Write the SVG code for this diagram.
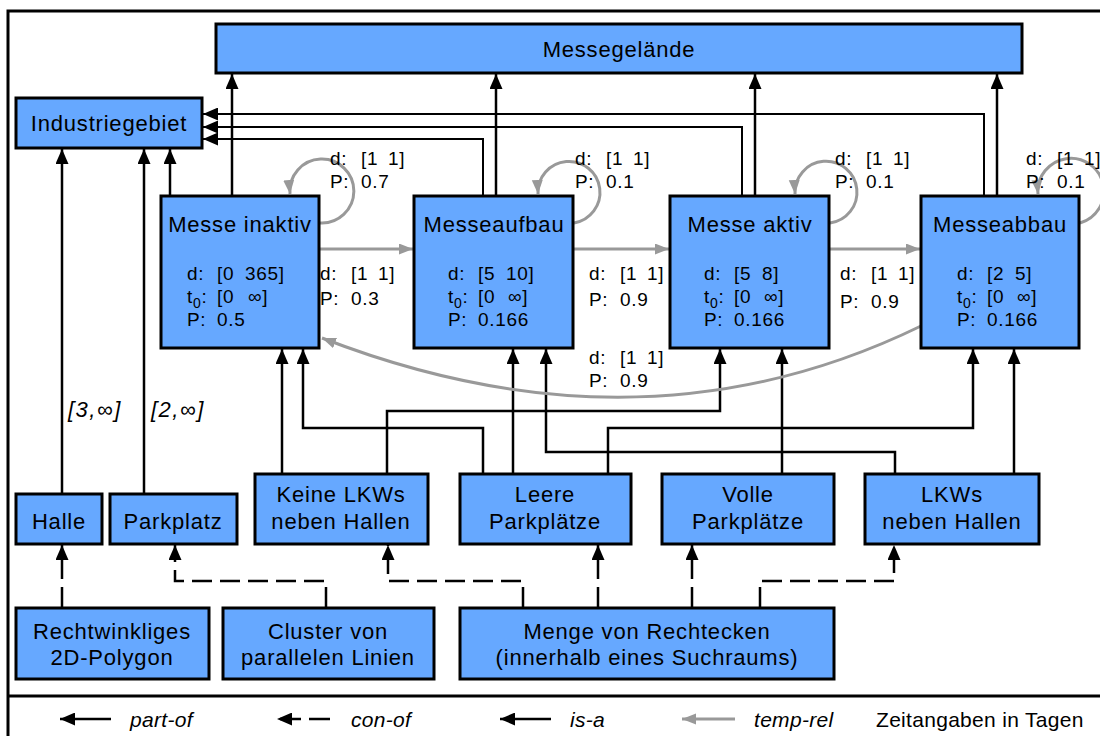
<svg xmlns="http://www.w3.org/2000/svg" width="1100" height="736" viewBox="0 0 1100 736">
<style>
.box{fill:#66a8ff;stroke:#000;stroke-width:3}
.t{font-family:"Liberation Sans",Arial,sans-serif;font-size:22px;text-anchor:middle;letter-spacing:0.8px;fill:#000}
.c{font-family:"Liberation Sans",Arial,sans-serif;font-size:19px;letter-spacing:0.7px;fill:#000}
.lg{font-family:"Liberation Sans",Arial,sans-serif;font-size:21px;letter-spacing:0.3px;fill:#000}
.it{font-style:italic}
.pl{fill:none;stroke:#000;stroke-width:2.5}
.th{stroke-width:2}
.ds{stroke-dasharray:20 8}
.tr{fill:none;stroke:#999;stroke-width:3}
</style>
<defs>
<marker id="ah" markerUnits="userSpaceOnUse" markerWidth="16" markerHeight="13" refX="15" refY="6.5" orient="auto"><path d="M0,0 L15,6.5 L0,13 z" fill="#000"/></marker>
<marker id="ag" markerUnits="userSpaceOnUse" markerWidth="15" markerHeight="12" refX="14" refY="5.5" orient="auto"><path d="M0,0 L14,5.5 L0,11 z" fill="#999"/></marker>
</defs>
<rect x="0" y="0" width="1100" height="736" fill="#fff"/>
<rect x="8" y="11" width="1100" height="740" fill="none" stroke="#000" stroke-width="3"/>
<line x1="8" y1="696" x2="1100" y2="696" stroke="#000" stroke-width="3"/>

<g id="connectors">
<path class="pl" marker-end="url(#ah)" d="M232,195 V74"/>
<path class="pl" marker-end="url(#ah)" d="M496,195 V74"/>
<path class="pl" marker-end="url(#ah)" d="M755,195 V74"/>
<path class="pl" marker-end="url(#ah)" d="M997,195 V74"/>
<path class="pl" marker-end="url(#ah)" d="M170,195 V149"/>
<path class="pl th" marker-end="url(#ah)" d="M483,195 V139 H203"/>
<path class="pl th" marker-end="url(#ah)" d="M742,195 V127 H203"/>
<path class="pl th" marker-end="url(#ah)" d="M984,195 V114 H203"/>
<path class="pl" marker-end="url(#ah)" d="M62,493 V149"/>
<path class="pl" marker-end="url(#ah)" d="M144,493 V149"/>
<path class="pl" marker-end="url(#ah)" d="M282,473 V349"/>
<path class="pl" marker-end="url(#ah)" d="M483,473 V428 H303 V349"/>
<path class="pl" marker-end="url(#ah)" d="M387,473 V411 H720 V349"/>
<path class="pl" marker-end="url(#ah)" d="M513,473 V349"/>
<path class="pl" marker-end="url(#ah)" d="M895,473 V452 H546 V349"/>
<path class="pl" marker-end="url(#ah)" d="M608,473 V428 H973 V349"/>
<path class="pl" marker-end="url(#ah)" d="M782,473 V349"/>
<path class="pl" marker-end="url(#ah)" d="M1014,473 V349"/>
<path class="pl ds" marker-end="url(#ah)" d="M62,607 V545"/>
<path class="pl ds" marker-end="url(#ah)" d="M326,607 V581 H175 V545"/>
<path class="pl ds" marker-end="url(#ah)" d="M523,607 V581 H388 V545"/>
<path class="pl ds" marker-end="url(#ah)" d="M598,607 V545"/>
<path class="pl ds" marker-end="url(#ah)" d="M692,607 V545"/>
<path class="pl ds" marker-end="url(#ah)" d="M760,607 V581 H894 V545"/>
<path class="tr" marker-end="url(#ag)" d="M320,249 H413"/>
<path class="tr" marker-end="url(#ag)" d="M574,249 H669"/>
<path class="tr" marker-end="url(#ag)" d="M830,249 H920"/>
<path class="tr" marker-end="url(#ag)" d="M921,326 Q642,462 322,338"/>
<path class="tr" marker-end="url(#ag)" d="M320,223 A32,32 0 1 0 290,194"/>
<path class="tr" marker-end="url(#ag)" d="M574,223 A31,31 0 1 0 538,194"/>
<path class="tr" marker-end="url(#ag)" d="M830,223 A31,31 0 1 0 795,194"/>
<path class="tr" marker-end="url(#ag)" d="M1080,223 A33,33 0 1 0 1038,194"/>
<text class="c"><tspan x="330" y="165">d:</tspan><tspan x="361">[1</tspan><tspan x="388">1]</tspan></text>
<text class="c"><tspan x="330" y="188">P:</tspan><tspan x="361">0.7</tspan></text>
<text class="c"><tspan x="575" y="165">d:</tspan><tspan x="606">[1</tspan><tspan x="633">1]</tspan></text>
<text class="c"><tspan x="575" y="188">P:</tspan><tspan x="606">0.1</tspan></text>
<text class="c"><tspan x="835" y="165">d:</tspan><tspan x="866">[1</tspan><tspan x="893">1]</tspan></text>
<text class="c"><tspan x="835" y="188">P:</tspan><tspan x="866">0.1</tspan></text>
<text class="c"><tspan x="1026" y="165">d:</tspan><tspan x="1057">[1</tspan><tspan x="1084">1]</tspan></text>
<text class="c"><tspan x="1026" y="188">P:</tspan><tspan x="1057">0.1</tspan></text>
<text class="c"><tspan x="320" y="280">d:</tspan><tspan x="351">[1</tspan><tspan x="378">1]</tspan></text>
<text class="c"><tspan x="320" y="305">P:</tspan><tspan x="351">0.3</tspan></text>
<text class="c"><tspan x="589" y="280">d:</tspan><tspan x="620">[1</tspan><tspan x="647">1]</tspan></text>
<text class="c"><tspan x="589" y="306">P:</tspan><tspan x="620">0.9</tspan></text>
<text class="c"><tspan x="840" y="280">d:</tspan><tspan x="871">[1</tspan><tspan x="898">1]</tspan></text>
<text class="c"><tspan x="840" y="308">P:</tspan><tspan x="871">0.9</tspan></text>
<text class="c"><tspan x="589" y="364">d:</tspan><tspan x="620">[1</tspan><tspan x="647">1]</tspan></text>
<text class="c"><tspan x="589" y="387">P:</tspan><tspan x="620">0.9</tspan></text>
<text class="c it" style="font-size:22px;letter-spacing:1.5px" x="68" y="417">[3,∞]</text>
<text class="c it" style="font-size:22px;letter-spacing:1.5px" x="151" y="417">[2,∞]</text>
</g>

<g id="n-messegelaende"><rect class="box" x="216" y="24" width="806" height="49"/><text class="t" x="619" y="57">Messegelände</text></g>
<g id="n-industriegebiet"><rect class="box" x="16" y="98" width="186" height="50"/><text class="t" x="109" y="131">Industriegebiet</text></g>

<g id="n-inaktiv"><rect class="box" x="161" y="196" width="158" height="152"/><text class="t" x="240" y="232">Messe inaktiv</text>
<text class="c"><tspan x="187" y="280">d:</tspan><tspan x="217">[0</tspan><tspan x="245">365]</tspan></text>
<text class="c"><tspan x="187" y="303">t</tspan><tspan dy="5" font-size="14">0</tspan><tspan dy="-5">:</tspan><tspan x="217">[0</tspan><tspan x="248">∞]</tspan></text>
<text class="c"><tspan x="187" y="326">P:</tspan><tspan x="217">0.5</tspan></text></g>

<g id="n-aufbau"><rect class="box" x="414" y="196" width="159" height="152"/><text class="t" x="494" y="232">Messeaufbau</text>
<text class="c"><tspan x="448" y="280">d:</tspan><tspan x="478">[5</tspan><tspan x="506">10]</tspan></text>
<text class="c"><tspan x="448" y="303">t</tspan><tspan dy="5" font-size="14">0</tspan><tspan dy="-5">:</tspan><tspan x="478">[0</tspan><tspan x="508">∞]</tspan></text>
<text class="c"><tspan x="448" y="326">P:</tspan><tspan x="478">0.166</tspan></text></g>

<g id="n-aktiv"><rect class="box" x="670" y="196" width="159" height="152"/><text class="t" x="750" y="232">Messe aktiv</text>
<text class="c"><tspan x="704" y="280">d:</tspan><tspan x="734">[5</tspan><tspan x="762">8]</tspan></text>
<text class="c"><tspan x="704" y="303">t</tspan><tspan dy="5" font-size="14">0</tspan><tspan dy="-5">:</tspan><tspan x="734">[0</tspan><tspan x="764">∞]</tspan></text>
<text class="c"><tspan x="704" y="326">P:</tspan><tspan x="734">0.166</tspan></text></g>

<g id="n-abbau"><rect class="box" x="921" y="196" width="158" height="152"/><text class="t" x="1000" y="232">Messeabbau</text>
<text class="c"><tspan x="957" y="280">d:</tspan><tspan x="987">[2</tspan><tspan x="1015">5]</tspan></text>
<text class="c"><tspan x="957" y="303">t</tspan><tspan dy="5" font-size="14">0</tspan><tspan dy="-5">:</tspan><tspan x="987">[0</tspan><tspan x="1017">∞]</tspan></text>
<text class="c"><tspan x="957" y="326">P:</tspan><tspan x="987">0.166</tspan></text></g>

<g id="n-halle"><rect class="box" x="16" y="494" width="86" height="50"/><text class="t" x="59" y="529">Halle</text></g>
<g id="n-parkplatz"><rect class="box" x="110" y="494" width="127" height="50"/><text class="t" x="173" y="529">Parkplatz</text></g>
<g id="n-keine"><rect class="box" x="255" y="474" width="173" height="70"/><text class="t" x="341" y="502">Keine LKWs</text><text class="t" x="341" y="529">neben Hallen</text></g>
<g id="n-leere"><rect class="box" x="460" y="474" width="171" height="70"/><text class="t" x="545" y="502">Leere</text><text class="t" x="545" y="529">Parkplätze</text></g>
<g id="n-volle"><rect class="box" x="662" y="474" width="172" height="70"/><text class="t" x="748" y="502">Volle</text><text class="t" x="748" y="529">Parkplätze</text></g>
<g id="n-lkws"><rect class="box" x="865" y="474" width="174" height="70"/><text class="t" x="952" y="502">LKWs</text><text class="t" x="952" y="529">neben Hallen</text></g>

<g id="n-rechtwinklig"><rect class="box" x="16" y="608" width="193" height="71"/><text class="t" x="112" y="639">Rechtwinkliges</text><text class="t" x="112" y="665">2D-Polygon</text></g>
<g id="n-cluster"><rect class="box" x="223" y="608" width="211" height="71"/><text class="t" x="328" y="639">Cluster von</text><text class="t" x="328" y="665">parallelen Linien</text></g>
<g id="n-menge"><rect class="box" x="460" y="608" width="374" height="71"/><text class="t" x="647" y="639">Menge von Rechtecken</text><text class="t" x="647" y="665">(innerhalb eines Suchraums)</text></g>

<g id="legend">
<path class="pl" stroke-width="3" marker-end="url(#ah)" d="M111,719 H60"/>
<text class="lg it" x="130" y="727">part-of</text>
<path class="pl" stroke-width="3" marker-end="url(#ah)" stroke-dasharray="21 8" d="M330,719 H277"/>
<text class="lg it" x="351" y="727">con-of</text>
<path class="pl" stroke-width="3" marker-end="url(#ah)" d="M551,719 H500"/>
<text class="lg it" x="570" y="727">is-a</text>
<path class="tr" stroke-width="3.5" marker-end="url(#ag)" d="M735,719 H682"/>
<text class="lg it" x="754" y="727">temp-rel</text>
<text class="lg" x="876" y="727">Zeitangaben in Tagen</text>
</g>
</svg>
